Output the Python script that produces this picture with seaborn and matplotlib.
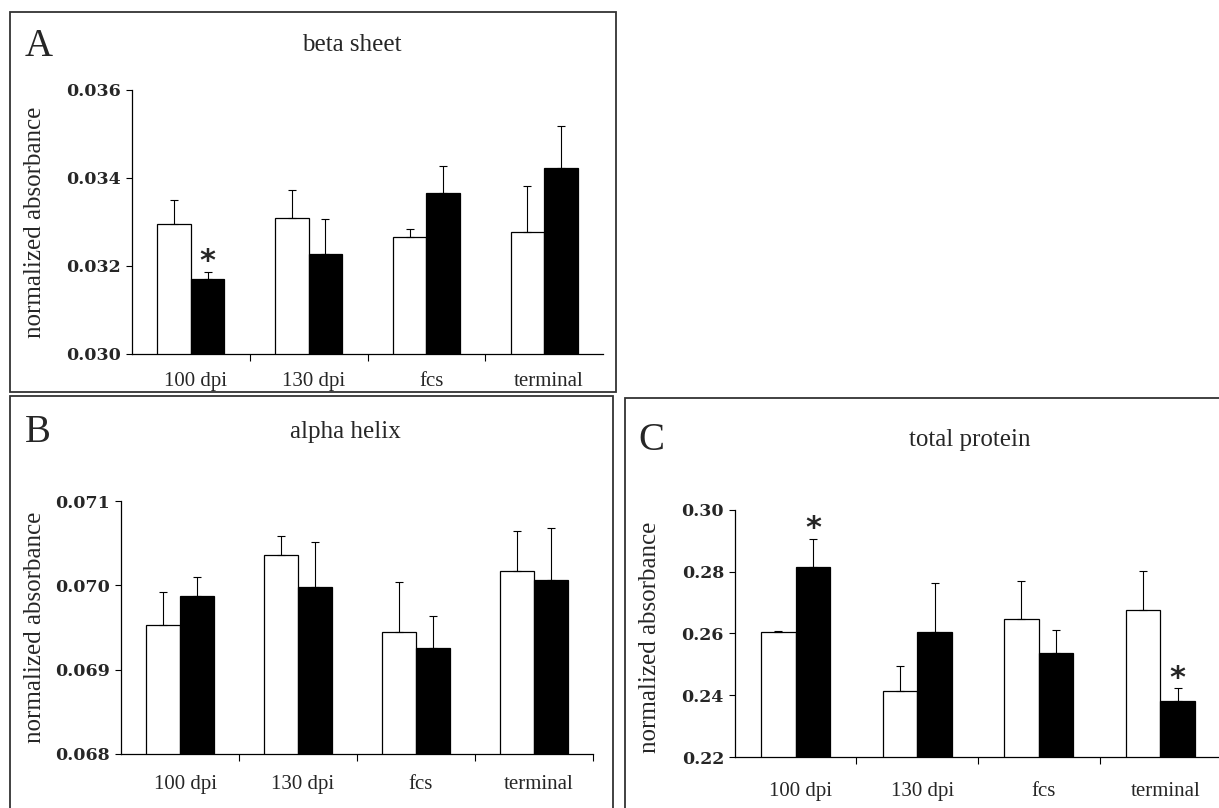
import numpy as np
import pandas as pd
import matplotlib
matplotlib.use("Agg")
import matplotlib.pyplot as plt
import matplotlib.transforms as mtransforms
import seaborn as sns
from matplotlib.patches import Rectangle
from matplotlib.ticker import FormatStrFormatter

# ---------------- data ----------------
categories = ["100 dpi", "130 dpi", "fcs", "terminal"]
groups = ["control", "infected"]

beta_control = [0.03295, 0.03308, 0.03266, 0.03277]
beta_infected = [0.03170, 0.03228, 0.03367, 0.03422]
beta_control_err = [0.00055, 0.00065, 0.00019, 0.00104]
beta_infected_err = [0.00017, 0.00079, 0.00061, 0.00097]
beta_infected_sig = [True, False, False, False]

alpha_control = [0.06953, 0.07036, 0.06945, 0.07017]
alpha_infected = [0.06987, 0.06998, 0.06926, 0.07006]
alpha_control_err = [0.00039, 0.00022, 0.00059, 0.00048]
alpha_infected_err = [0.00023, 0.00053, 0.00038, 0.00062]
alpha_infected_sig = [False, False, False, False]

protein_control = [0.2606, 0.2413, 0.2648, 0.2676]
protein_infected = [0.2816, 0.2605, 0.2537, 0.2381]
protein_control_err = [0.0002, 0.0083, 0.0122, 0.0127]
protein_infected_err = [0.0090, 0.0159, 0.0075, 0.0041]
protein_infected_sig = [True, False, False, True]

beta_ticks = [0.030, 0.032, 0.034, 0.036]
alpha_ticks = [0.068, 0.069, 0.070, 0.071]
protein_ticks = [0.22, 0.24, 0.26, 0.28, 0.30]

# ---------------- style ----------------
sns.set_theme(style="white")
plt.rcParams["font.family"] = ["Liberation Serif", "DejaVu Serif"]

W, H = 1219, 808
fig = plt.figure(figsize=(W / 100, H / 100), dpi=100)


def fx(x):
    return x / W


def fy(y):
    return 1 - y / H


def panel(ax_px, box_px, letter, letter_px, title, title_px, ylabel_px,
          control, infected, control_err, infected_err, infected_sig,
          ticks, fmt, end_tick=False, xpad=15):
    l, t, r, b = ax_px
    ax = fig.add_axes([fx(l), fy(b), (r - l) / W, (b - t) / H])
    df = pd.DataFrame({
        "stage": categories * 2,
        "group": [groups[0]] * 4 + [groups[1]] * 4,
        "value": list(control) + list(infected),
    })
    sns.barplot(data=df, x="stage", y="value", hue="group",
                palette=["white", "black"], edgecolor="black", linewidth=0.9,
                width=0.57, errorbar=None, legend=False, ax=ax, zorder=2)
    # error bars (upper only) at the seaborn bar positions
    bars = sorted(ax.patches, key=lambda p: p.get_x())
    xs = [p.get_x() + p.get_width() / 2 for p in bars]
    hs = [p.get_height() for p in bars]
    errs, sig = [], []
    for i in range(len(categories)):
        errs += [control_err[i], infected_err[i]]
        sig += [False, infected_sig[i]]
    ax.errorbar(xs, hs, yerr=[np.zeros(len(errs)), errs], fmt="none",
                ecolor="black", elinewidth=0.8, capsize=3, capthick=0.8,
                zorder=3)
    for x, h, e, s in zip(xs, hs, errs, sig):
        if s:
            ax.annotate("*", xy=(x, h + e), xytext=(0, -3),
                        textcoords="offset points", ha="center", va="bottom",
                        fontsize=22, fontweight="bold", family="DejaVu Sans")
    ax.set_xlim(-0.5, 3.5)
    ax.set_ylim(ticks[0], ticks[-1])
    ax.set_yticks(ticks)
    ax.yaxis.set_major_formatter(FormatStrFormatter(fmt))
    ax.set_xticks(range(len(categories)))
    ax.set_xticklabels(categories)
    bnd = [0.5, 1.5, 2.5] + ([3.5] if end_tick else [])
    ax.set_xticks(bnd, minor=True)
    ax.tick_params(axis="x", which="major", length=0, pad=xpad, labelsize=15)
    ax.tick_params(axis="x", which="minor", length=5, width=0.8,
                   direction="out", color="black", bottom=True)
    ax.tick_params(axis="y", which="major", length=4, width=0.8,
                   direction="out", color="black", left=True, pad=4)
    shift = mtransforms.ScaledTranslation(5 / 100, 0, fig.dpi_scale_trans)
    for lab in ax.get_xticklabels():
        lab.set_transform(lab.get_transform() + shift)
    for lab in ax.get_yticklabels():
        lab.set_family("DejaVu Serif")
        lab.set_fontweight("bold")
        lab.set_fontsize(12.5)
    ax.set_xlabel("")
    ax.set_ylabel("")
    sns.despine(ax=ax)
    for sp in ("left", "bottom"):
        ax.spines[sp].set_color("black")
        ax.spines[sp].set_linewidth(0.9)
    ax.spines["bottom"].set_clip_on(False)

    # frame, letter, title, y label
    bl, bt, br, bb = box_px
    fig.add_artist(Rectangle((fx(bl), fy(bb)), (br - bl) / W, (bb - bt) / H,
                             transform=fig.transFigure, fill=False,
                             edgecolor="#333333", linewidth=1.3))
    fig.text(fx(letter_px[0]), fy(letter_px[1]), letter, fontsize=28,
             ha="center", va="center")
    fig.text(fx(title_px[0]), fy(title_px[1]), title, fontsize=18,
             ha="center", va="center")
    fig.text(fx(ylabel_px[0]), fy(ylabel_px[1]), "normalized absorbance",
             fontsize=18, rotation=90, ha="center", va="center")
    return ax


panel((132, 90, 603, 354), (10, 12, 616, 392), "A", (39, 46), "beta sheet",
      (352, 45), (35, 222), beta_control, beta_infected, beta_control_err,
      beta_infected_err, beta_infected_sig, beta_ticks, "%.3f", xpad=13)

panel((121, 501, 593, 754), (10, 396, 613, 812), "B", (38, 433), "alpha helix",
      (345, 432), (35, 627), alpha_control, alpha_infected, alpha_control_err,
      alpha_infected_err, alpha_infected_sig, alpha_ticks, "%.3f",
      end_tick=True, xpad=15)

panel((735, 510, 1221, 757), (625, 398, 1225, 812), "C", (651, 440),
      "total protein", (970, 440), (650, 637), protein_control,
      protein_infected, protein_control_err, protein_infected_err,
      protein_infected_sig, protein_ticks, "%.2f", xpad=18)

fig.savefig("out.png", dpi=100)
